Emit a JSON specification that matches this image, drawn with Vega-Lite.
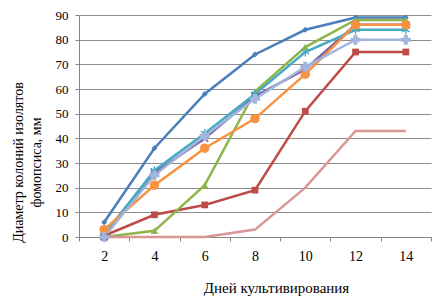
{
  "$schema": "https://vega.github.io/schema/vega-lite/v6.json",
  "width": 352,
  "height": 222,
  "autosize": {"type": "none"},
  "padding": {"left": 79, "top": 15, "right": 13, "bottom": 61},
  "background": "white",
  "config": {
    "view": {"stroke": null},
    "font": "Liberation Serif"
  },
  "data": {
    "values": [
      {"s": "1", "d": 2, "v": 6}, {"s": "1", "d": 4, "v": 36}, {"s": "1", "d": 6, "v": 58}, {"s": "1", "d": 8, "v": 74}, {"s": "1", "d": 10, "v": 84}, {"s": "1", "d": 12, "v": 89}, {"s": "1", "d": 14, "v": 89},
      {"s": "2", "d": 2, "v": 0.5}, {"s": "2", "d": 4, "v": 9}, {"s": "2", "d": 6, "v": 13}, {"s": "2", "d": 8, "v": 19}, {"s": "2", "d": 10, "v": 51}, {"s": "2", "d": 12, "v": 75}, {"s": "2", "d": 14, "v": 75},
      {"s": "3", "d": 2, "v": 0}, {"s": "3", "d": 4, "v": 2.5}, {"s": "3", "d": 6, "v": 21}, {"s": "3", "d": 8, "v": 59}, {"s": "3", "d": 10, "v": 77}, {"s": "3", "d": 12, "v": 88}, {"s": "3", "d": 14, "v": 88},
      {"s": "4", "d": 2, "v": 0}, {"s": "4", "d": 4, "v": 26}, {"s": "4", "d": 6, "v": 40}, {"s": "4", "d": 8, "v": 57}, {"s": "4", "d": 10, "v": 68}, {"s": "4", "d": 12, "v": 86}, {"s": "4", "d": 14, "v": 86},
      {"s": "5", "d": 2, "v": 1}, {"s": "5", "d": 4, "v": 27}, {"s": "5", "d": 6, "v": 42}, {"s": "5", "d": 8, "v": 58}, {"s": "5", "d": 10, "v": 75}, {"s": "5", "d": 12, "v": 84}, {"s": "5", "d": 14, "v": 84},
      {"s": "6", "d": 2, "v": 3}, {"s": "6", "d": 4, "v": 21}, {"s": "6", "d": 6, "v": 36}, {"s": "6", "d": 8, "v": 48}, {"s": "6", "d": 10, "v": 66}, {"s": "6", "d": 12, "v": 86}, {"s": "6", "d": 14, "v": 86},
      {"s": "7", "d": 2, "v": 0}, {"s": "7", "d": 4, "v": 25}, {"s": "7", "d": 6, "v": 41}, {"s": "7", "d": 8, "v": 56}, {"s": "7", "d": 10, "v": 69}, {"s": "7", "d": 12, "v": 80}, {"s": "7", "d": 14, "v": 80},
      {"s": "8", "d": 2, "v": 0}, {"s": "8", "d": 4, "v": 0}, {"s": "8", "d": 6, "v": 0}, {"s": "8", "d": 8, "v": 3}, {"s": "8", "d": 10, "v": 20}, {"s": "8", "d": 12, "v": 43}, {"s": "8", "d": 14, "v": 43}
    ]
  },
  "encoding": {
    "x": {
      "field": "d", "type": "ordinal",
      "scale": {"type": "band", "paddingInner": 0, "paddingOuter": 0},
      "axis": {
        "title": "Дней культивирования",
        "titleFont": "Liberation Serif", "titleFontSize": 15, "titleFontWeight": "normal", "titleColor": "black",
        "titleX": 197, "titleY": 43,
        "labelAngle": 0, "labelFont": "Liberation Serif", "labelFontSize": 14, "labelColor": "black", "labelPadding": 8,
        "tickBand": "extent", "tickSize": 4, "tickColor": "#868686",
        "domainColor": "#868686", "domainWidth": 1, "grid": false
      }
    },
    "y": {
      "field": "v", "type": "quantitative",
      "scale": {"domain": [0, 90], "nice": false},
      "axis": {
        "values": [0, 10, 20, 30, 40, 50, 60, 70, 80, 90],
        "title": ["Диаметр колоний изолятов", "фомопсиса, мм"],
        "titleFont": "Liberation Serif", "titleFontSize": 14, "titleFontWeight": "normal", "titleColor": "black",
        "titleLineHeight": 18, "titleAngle": -90, "titleX": -54, "titleY": 147, "titleAlign": "center", "titleBaseline": "bottom",
        "labelFont": "Liberation Serif", "labelFontSize": 13, "labelColor": "black", "labelPadding": 7,
        "tickSize": 4, "tickColor": "#868686",
        "domainColor": "#868686", "grid": true, "gridColor": "#8c8c8c", "gridWidth": 1
      }
    },
    "color": {
      "field": "s", "type": "nominal", "legend": null,
      "scale": {"domain": ["1","2","3","4","5","6","7","8"],
        "range": ["#4A7EBB", "#BE4B48", "#8DB54A", "#7D60A0", "#46AAC5", "#F69240", "#A2B5DD", "#D99694"]}
    },
    "order": {"field": "d", "type": "quantitative"}
  },
  "layer": [
    {"mark": {"type": "line", "strokeWidth": 2.5}},
    {
      "mark": {"type": "point", "filled": true, "opacity": 1},
      "encoding": {
        "shape": {
          "field": "s", "type": "nominal", "legend": null,
          "scale": {"domain": ["1","2","3","4","5","6","7","8"],
            "range": ["diamond", "square", "triangle-up", "M-1,-0.7L-0.7,-1L0,-0.3L0.7,-1L1,-0.7L0.3,0L1,0.7L0.7,1L0,0.3L-0.7,1L-1,0.7L-0.3,0Z", "M-0.15,-1L0.15,-1L0.15,-0.25L0.8,-0.6L0.95,-0.35L0.3,0L0.95,0.35L0.8,0.6L0.15,0.25L0.15,1L-0.15,1L-0.15,0.25L-0.8,0.6L-0.95,0.35L-0.3,0L-0.95,-0.35L-0.8,-0.6L-0.15,-0.25Z", "circle", "cross", "stroke"]}
        },
        "size": {
          "field": "s", "type": "nominal", "legend": null,
          "scale": {"domain": ["1","2","3","4","5","6","7","8"], "range": [35, 110, 60, 60, 70, 95, 50, 40]}
        }
      }
    }
  ]
}
